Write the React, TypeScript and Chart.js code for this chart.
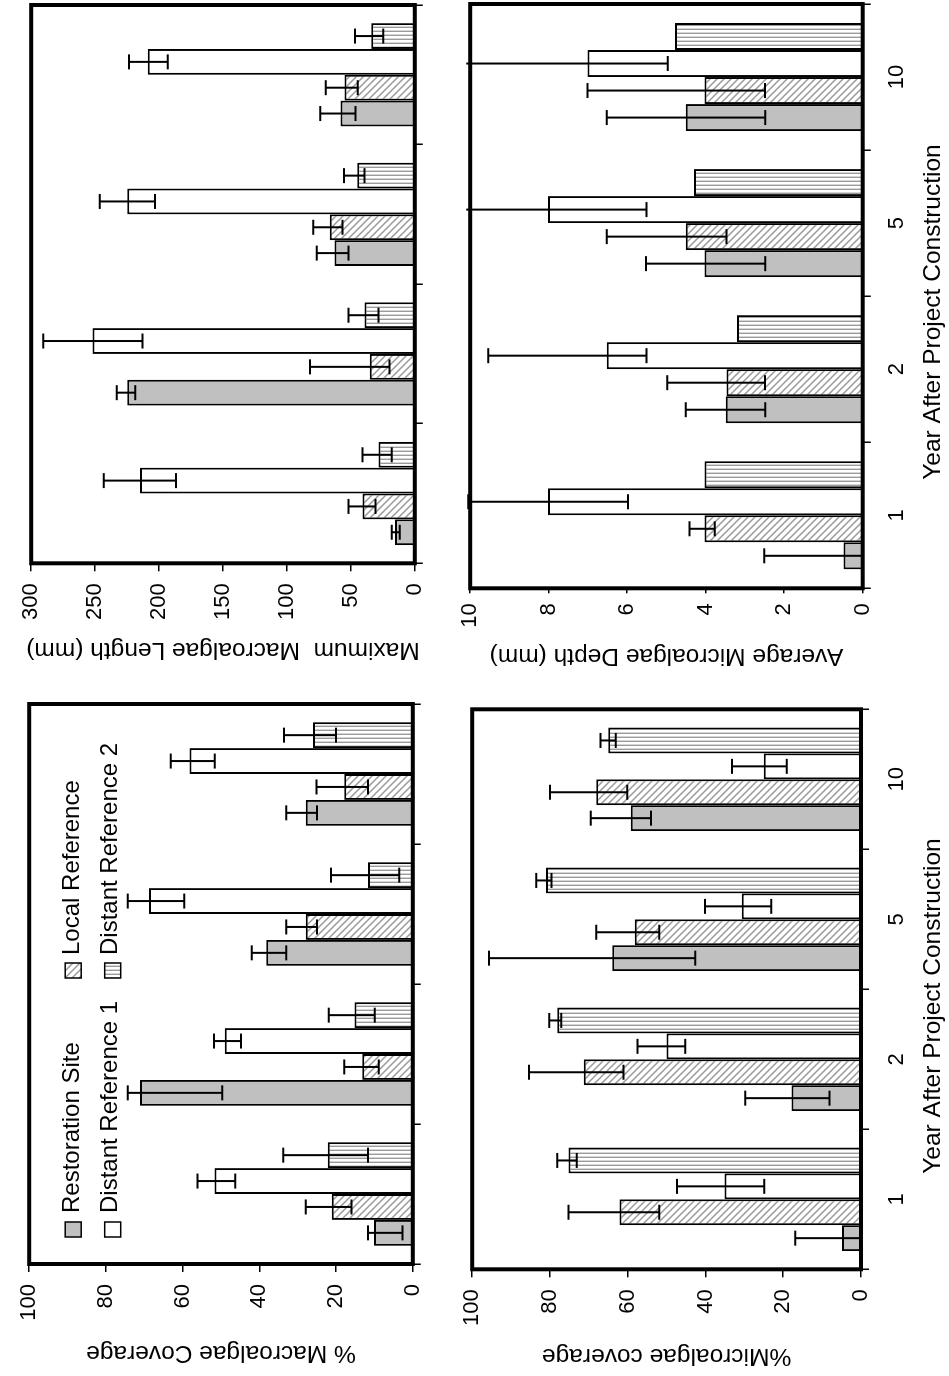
import React, { useEffect, useRef } from "react";
import { Chart, registerables } from "chart.js";

Chart.register(...registerables);

const FONT = "'Liberation Sans', Arial, Helvetica, sans-serif";
const TICK_SIZE = 22;
const TITLE_SIZE = 24.5;

// ---------- data ----------
const years = ["1", "2", "5", "10"];
const seriesNames = ["Restoration Site", "Local Reference", "Distant Reference 1", "Distant Reference 2"];
const xAxisTitle = "Year After Project Construction";

// % Macroalgae Coverage
const macroCovTicks = [0, 20, 40, 60, 80, 100];
const macroCovRestoration = [10.1, 71.1, 38.2, 27.9];
const macroCovLocal = [21.1, 13.2, 27.9, 17.9];
const macroCovDistant1 = [51.7, 49.0, 68.8, 58.2];
const macroCovDistant2 = [22.2, 15.2, 11.7, 26.0];
const macroCovRestorationErr = [[2.7, 11.7], [49.7, 74.3], [33.0, 42.0], [25.0, 33.0]];
const macroCovLocalErr = [[16.0, 27.9], [8.9, 17.9], [25.0, 33.0], [11.7, 25.1]];
const macroCovDistant1Err = [[46.3, 56.1], [44.8, 51.8], [59.6, 74.3], [51.6, 63.1]];
const macroCovDistant2Err = [[11.7, 33.8], [9.9, 21.9], [3.5, 21.3], [20.0, 33.6]];

// Maximum Macroalgae Length (mm)
const macroLenTicks = [0, 50, 100, 150, 200, 250, 300];
const macroLenRestoration = [15.5, 224.9, 62.8, 58.1];
const macroLenLocal = [40.9, 35.2, 66.5, 54.9];
const macroLenDistant1 = [215.0, 252.0, 224.9, 208.8];
const macroLenDistant2 = [28.3, 39.4, 45.1, 34.0];
const macroLenRestorationErr = [[11.8, 18.0], [218.7, 233.0], [51.9, 76.6], [46.3, 73.9]];
const macroLenLocalErr = [[30.7, 51.9], [19.7, 82.0], [56.6, 79.5], [44.6, 69.7]];
const macroLenDistant1Err = [[186.7, 243.3], [213.0, 290.6], [203.2, 246.3], [193.3, 223.6]];
const macroLenDistant2Err = [[18.0, 40.9], [28.3, 51.9], [39.4, 55.4], [24.6, 46.8]];

// %Microalgae coverage
const microCovTicks = [0, 20, 40, 60, 80, 100];
const microCovRestoration = [4.9, 17.9, 64.0, 59.2];
const microCovLocal = [62.1, 71.3, 58.2, 68.1];
const microCovDistant1 = [35.1, 50.0, 30.7, 25.0];
const microCovDistant2 = [75.2, 78.1, 81.0, 65.0];
const microCovRestorationErr = [[0, 16.9], [8.1, 29.8], [42.6, 95.7], [54.0, 69.5]];
const microCovLocalErr = [[51.9, 75.2], [61.1, 85.4], [51.9, 68.1], [60.1, 80.0]];
const microCovDistant1Err = [[24.9, 47.3], [45.2, 57.5], [23.1, 40.1], [19.1, 33.2]];
const microCovDistant2Err = [[73.1, 78.1], [77.1, 80.2], [79.6, 83.5], [63.1, 67.0]];

// Average Microalgae Depth (mm)
const microDepthTicks = [0, 2, 4, 6, 8, 10];
const microDepthRestoration = [0.49, 3.49, 4.03, 4.51];
const microDepthLocal = [4.03, 3.47, 4.51, 4.03];
const microDepthDistant1 = [8.02, 6.52, 8.02, 7.01];
const microDepthDistant2 = [4.03, 3.2, 4.3, 4.78];
const microDepthRestorationErr = [[0, 2.51], [2.48, 4.51], [2.48, 5.52], [2.48, 6.52]];
const microDepthLocalErr = [[3.77, 4.41], [2.49, 4.98], [3.47, 6.52], [2.49, 7.01]];
const microDepthDistant1Err = [[5.98, 10.05], [5.51, 9.54], [5.51, 10.6], [4.97, 10.6]];

// ---------- panel layout (un-rotated figure coordinates, 1376 x 949) ----------
type Spec = {
  id: string;
  yTitle: string;
  ticks: number[];
  series: number[][];
  errs: (number[][] | null)[];
  plot: { l: number; r: number; t: number; b: number };
  titleX: number;
  tickLen: number;
  tickPad: number;
  hx: number;
  showX: boolean;
  xLabelY?: number;
  xTitleX?: number;
  xTitleY?: number;
  legend?: boolean;
};

const panels: Spec[] = [
  {
    id: "A",
    yTitle: "% Macroalgae Coverage",
    ticks: macroCovTicks,
    series: [macroCovRestoration, macroCovLocal, macroCovDistant1, macroCovDistant2],
    errs: [macroCovRestorationErr, macroCovLocalErr, macroCovDistant1Err, macroCovDistant2Err],
    plot: { l: 112, r: 672, t: 20.7, b: 427.7 },
    titleX: 23,
    tickLen: 8,
    tickPad: 12,
    hx: 10,
    showX: false,
    legend: true,
  },
  {
    id: "B",
    yTitle: "Maximum  Macroalgae Length (mm)",
    ticks: macroLenTicks,
    series: [macroLenRestoration, macroLenLocal, macroLenDistant1, macroLenDistant2],
    errs: [macroLenRestorationErr, macroLenLocalErr, macroLenDistant1Err, macroLenDistant2Err],
    plot: { l: 812.7, r: 1371, t: 22.7, b: 429.3 },
    titleX: 726,
    tickLen: 8,
    tickPad: 12,
    hx: 10,
    showX: false,
  },
  {
    id: "C",
    yTitle: "%Microalgae coverage",
    ticks: microCovTicks,
    series: [microCovRestoration, microCovLocal, microCovDistant1, microCovDistant2],
    errs: [microCovRestorationErr, microCovLocalErr, microCovDistant1Err, microCovDistant2Err],
    plot: { l: 106.7, r: 666.7, t: 463.9, b: 861 },
    titleX: 20,
    tickLen: 8,
    tickPad: 12,
    hx: 88,
    showX: true,
    xLabelY: 896.5,
    xTitleX: 370,
    xTitleY: 933,
  },
  {
    id: "D",
    yTitle: "Average Microalgae Depth (mm)",
    ticks: microDepthTicks,
    series: [microDepthRestoration, microDepthLocal, microDepthDistant1, microDepthDistant2],
    errs: [microDepthRestorationErr, microDepthLocalErr, microDepthDistant1Err, null],
    plot: { l: 787.7, r: 1372, t: 463.4, b: 862.7 },
    titleX: 720,
    tickLen: 5,
    tickPad: 10,
    hx: 87,
    showX: true,
    xLabelY: 896.5,
    xTitleX: 1064,
    xTitleY: 933,
  },
];

function layoutOf(s: Spec) {
  const half = (TITLE_SIZE * 1.2) / 2;
  const cL = Math.floor(s.titleX - half);
  const yTitlePad = s.titleX - half - cL;
  const wy = s.plot.l - cL;
  const cT = Math.floor(s.plot.t - 16);
  const padTop = s.plot.t - cT;
  const cW = Math.ceil(s.plot.r - cL + 8);
  const padRight = cW - (s.plot.r - cL);
  const cH = Math.ceil(s.plot.b - cT + s.hx);
  const hx = cH - (s.plot.b - cT);
  const xLabelPad = s.xLabelY ? s.xLabelY - s.plot.b - 8 - (TICK_SIZE * 1.2) / 2 : 0;
  return { cL, cT, cW, cH, wy, hx, padTop, padRight, yTitlePad, xLabelPad };
}

function makeFills(ctx: CanvasRenderingContext2D): any[] {
  const hatch = document.createElement("canvas");
  hatch.width = 7;
  hatch.height = 7;
  const h = hatch.getContext("2d")!;
  h.fillStyle = "#ffffff";
  h.fillRect(0, 0, 7, 7);
  h.strokeStyle = "#9a9a9a";
  h.lineWidth = 1.5;
  h.beginPath();
  h.moveTo(-1, -1);
  h.lineTo(8, 8);
  h.moveTo(-1, 6);
  h.lineTo(1, 8);
  h.moveTo(6, -1);
  h.lineTo(8, 1);
  h.stroke();

  const stripe = document.createElement("canvas");
  stripe.width = 4;
  stripe.height = 4;
  const s = stripe.getContext("2d")!;
  s.fillStyle = "#ffffff";
  s.fillRect(0, 0, 4, 4);
  s.fillStyle = "#9a9a9a";
  s.fillRect(1, 0, 1.4, 4);

  return ["#c0c0c0", ctx.createPattern(hatch, "repeat"), "#ffffff", ctx.createPattern(stripe, "repeat")];
}

const errorBarPlugin = {
  id: "errorBars",
  afterDatasetsDraw(chart: any) {
    const ctx = chart.ctx;
    const ys = chart.scales.y;
    const area = chart.chartArea;
    chart.data.datasets.forEach((ds: any, i: number) => {
      const errs = ds.errs;
      if (!errs) return;
      const meta = chart.getDatasetMeta(i);
      meta.data.forEach((bar: any, j: number) => {
        const e = errs[j];
        if (!e) return;
        const x = bar.x;
        let lo = ys.getPixelForValue(e[0]);
        let hi = ys.getPixelForValue(e[1]);
        let capHi = true;
        if (hi < area.top - 4) {
          hi = area.top - 4;
          capHi = false;
        }
        lo = Math.min(lo, area.bottom);
        const w = 7.5;
        ctx.save();
        ctx.strokeStyle = "#000";
        ctx.lineWidth = 2;
        ctx.beginPath();
        ctx.moveTo(x, lo);
        ctx.lineTo(x, hi);
        if (e[0] > 0) {
          ctx.moveTo(x - w, lo);
          ctx.lineTo(x + w, lo);
        }
        if (capHi) {
          ctx.moveTo(x - w, hi);
          ctx.lineTo(x + w, hi);
        }
        ctx.stroke();
        ctx.restore();
      });
    });
  },
};

const framePlugin = {
  id: "frame",
  afterDraw(chart: any) {
    const { ctx, chartArea: a } = chart;
    ctx.save();
    ctx.strokeStyle = "#000";
    ctx.lineWidth = 4;
    ctx.strokeRect(a.left, a.top, a.right - a.left, a.bottom - a.top);
    ctx.restore();
  },
};

function makeXTitlePlugin(x: number, y: number) {
  return {
    id: "xAxisTitle",
    afterDraw(chart: any) {
      const ctx = chart.ctx;
      ctx.save();
      ctx.font = `${TITLE_SIZE}px ${FONT}`;
      ctx.fillStyle = "#000";
      ctx.textAlign = "center";
      ctx.textBaseline = "middle";
      ctx.fillText(xAxisTitle, x, y);
      ctx.restore();
    },
  };
}

const legendPlugin = {
  id: "panelLegend",
  afterDraw(chart: any) {
    const { ctx, chartArea: a } = chart;
    const fills = chart.data.datasets.map((d: any) => d.backgroundColor);
    const cols = [
      { mx: 27, tx: 51 },
      { mx: 286, tx: 309 },
    ];
    const rows = [
      { my: 36, ty: 49.3 },
      { my: 75.5, ty: 88 },
    ];
    ctx.save();
    ctx.font = `24px ${FONT}`;
    ctx.textBaseline = "alphabetic";
    ctx.textAlign = "left";
    seriesNames.forEach((name, i) => {
      const c = cols[i % 2];
      const r = rows[Math.floor(i / 2)];
      const x = a.left + c.mx;
      const y = a.top + r.my;
      ctx.fillStyle = fills[i];
      ctx.fillRect(x, y, 15, 16);
      ctx.strokeStyle = "#000";
      ctx.lineWidth = 1.5;
      ctx.strokeRect(x, y, 15, 16);
      ctx.fillStyle = "#000";
      ctx.fillText(name, a.left + c.tx, a.top + r.ty);
    });
    ctx.restore();
  },
};

function Panel({ spec }: { spec: Spec }) {
  const ref = useRef<HTMLCanvasElement>(null);
  const g = layoutOf(spec);
  useEffect(() => {
    const canvas = ref.current!;
    const ctx = canvas.getContext("2d")!;
    const fills = makeFills(ctx);
    const tickVals = spec.ticks;
    const extra: any[] = [];
    if (spec.legend) extra.push(legendPlugin);
    if (spec.showX && spec.xTitleX !== undefined && spec.xTitleY !== undefined) {
      extra.push(makeXTitlePlugin(spec.xTitleX - g.cL, spec.xTitleY - g.cT));
    }
    const chart = new Chart(canvas, {
      type: "bar",
      data: {
        labels: years,
        datasets: spec.series.map((vals, i) => ({
          label: seriesNames[i],
          data: vals,
          errs: spec.errs[i],
          backgroundColor: fills[i],
          borderColor: "#000",
          borderWidth: 2,
          categoryPercentage: 0.74,
          barPercentage: 1.0,
        })) as any,
      },
      options: {
        animation: false,
        responsive: false,
        devicePixelRatio: 1,
        layout: { padding: { left: 0, top: g.padTop, right: g.padRight, bottom: 0 } },
        plugins: { legend: { display: false }, tooltip: { enabled: false } },
        scales: {
          x: {
            grid: {
              offset: true,
              drawOnChartArea: false,
              drawTicks: true,
              tickLength: 8,
              color: "#000",
              lineWidth: 1.5,
            },
            border: { display: false },
            ticks: {
              display: spec.showX,
              color: "#000",
              font: { family: FONT, size: TICK_SIZE },
              padding: g.xLabelPad,
              maxRotation: 0,
            },
            title: { display: false },
            afterFit: (s: any) => {
              s.height = g.hx;
            },
          },
          y: {
            min: tickVals[0],
            max: tickVals[tickVals.length - 1],
            afterBuildTicks: (s: any) => {
              s.ticks = tickVals.map((v) => ({ value: v }));
            },
            grid: {
              drawOnChartArea: false,
              drawTicks: true,
              tickLength: spec.tickLen,
              color: "#000",
              lineWidth: 1.5,
            },
            border: { display: false },
            ticks: {
              color: "#000",
              font: { family: FONT, size: TICK_SIZE },
              padding: spec.tickPad,
            },
            title: {
              display: true,
              text: spec.yTitle,
              color: "#000",
              font: { family: FONT, size: TITLE_SIZE },
              padding: { top: g.yTitlePad, bottom: 0 },
            },
            afterFit: (s: any) => {
              s.width = g.wy;
            },
          },
        },
      } as any,
      plugins: [errorBarPlugin, framePlugin, ...extra] as any,
    });
    return () => chart.destroy();
  }, []);
  return (
    <canvas
      ref={ref}
      width={g.cW}
      height={g.cH}
      style={{ position: "absolute", left: g.cL, top: g.cT, width: g.cW, height: g.cH }}
    />
  );
}

export default function App() {
  return (
    <div
      style={{
        position: "fixed",
        left: 0,
        top: 0,
        width: 949,
        height: 1376,
        overflow: "hidden",
        background: "#ffffff",
      }}
    >
      <div
        style={{
          position: "absolute",
          left: 0,
          top: 0,
          width: 1376,
          height: 949,
          transformOrigin: "0 0",
          transform: "translate(0px, 1376px) rotate(-90deg)",
        }}
      >
        {panels.map((p) => (
          <Panel key={p.id} spec={p} />
        ))}
      </div>
    </div>
  );
}
